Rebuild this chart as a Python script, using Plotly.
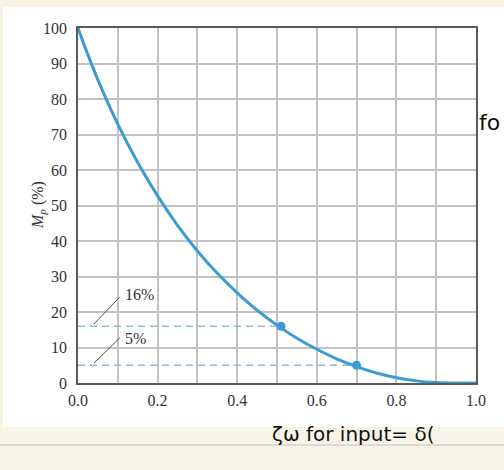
import plotly.graph_objects as go

# damping ratio (zeta) and percent overshoot
zeta = [0.0, 0.02, 0.05, 0.1, 0.15, 0.2, 0.25, 0.3, 0.35, 0.4, 0.45, 0.5,
        0.55, 0.6, 0.65, 0.7, 0.75, 0.8, 0.85, 0.9, 0.95, 1.0]
mp = [100.0, 93.9, 85.4, 72.9, 62.1, 52.7, 44.4, 37.2, 30.9, 25.4, 20.5, 16.3,
      12.6, 9.5, 6.8, 4.6, 2.8, 1.5, 0.6, 0.15, 0.0, 0.0]

# highlighted points
mark_zeta = [0.51, 0.70]
mark_mp = [16, 5]
mark_labels = ["16%", "5%"]

x_ticks = [0.0, 0.2, 0.4, 0.6, 0.8, 1.0]
x_ticktext = ["0.0", "0.2", "0.4", "0.6", "0.8", "1.0"]
y_ticks = [0, 10, 20, 30, 40, 50, 60, 70, 80, 90, 100]

W, H = 504, 470
L, R, T, B = 78, 28, 28, 87
PW, PH = W - L - R, H - T - B

def px(xp):
    return (xp - L) / PW

def py(yp):
    return (H - B - yp) / PH

CURVE = "#3d9bd3"
DASH = "#8dbbd6"
SERIF = "Liberation Serif"

fig = go.Figure()

# dashed reference lines
for zx, my in zip(mark_zeta, mark_mp):
    fig.add_trace(go.Scatter(x=[0, zx], y=[my, my], mode="lines",
                             line=dict(color=DASH, width=1.6, dash="7px,5px"),
                             hoverinfo="skip", showlegend=False))

fig.add_trace(go.Scatter(x=zeta, y=mp, mode="lines",
                         line=dict(color=CURVE, width=3, shape="spline", smoothing=0.8),
                         showlegend=False))
fig.add_trace(go.Scatter(x=mark_zeta, y=mark_mp, mode="markers",
                         marker=dict(color=CURVE, size=9),
                         showlegend=False))

shapes = [
    # white page panel
    dict(type="rect", xref="paper", yref="paper", layer="below",
         x0=px(3), x1=px(W + 2), y0=py(427), y1=py(7),
         fillcolor="white", line=dict(width=0)),
    # notebook line
    dict(type="line", xref="paper", yref="paper", layer="below",
         x0=px(0), x1=px(W), y0=py(445), y1=py(445),
         line=dict(color="#d4d2c8", width=1.5)),
]
# leader lines for labels
for my, ly in zip(mark_mp, [24.2, 12.7]):
    shapes.append(dict(type="line", xref="x", yref="y",
                       x0=0.04, x1=0.105, y0=my + 0.6, y1=ly,
                       line=dict(color="#555555", width=1)))

annotations = [
    dict(xref="paper", yref="paper", x=px(27), y=0.5, text="<i>M<sub>p</sub></i> (%)",
         textangle=-90, showarrow=False, font=dict(family=SERIF, size=16, color="#333")),
]
for lab, ly in zip(mark_labels, [24.8, 12.4]):
    annotations.append(dict(xref="x", yref="y", x=0.112, y=ly, text=lab, xanchor="left",
                            showarrow=False, font=dict(family=SERIF, size=16, color="#333")))
# handwritten notes on the page
annotations.append(dict(xref="paper", yref="paper", x=px(477), y=py(108), xanchor="left",
                        text="fo", showarrow=False,
                        font=dict(family="DejaVu Sans", size=22, color="#111")))
annotations.append(dict(xref="paper", yref="paper", x=px(270), y=py(420), xanchor="left",
                        yanchor="top", text="ζω for input= δ(", showarrow=False,
                        font=dict(family="DejaVu Sans", size=20, color="#111")))

axis_common = dict(showgrid=True, gridcolor="#c2c2c2", gridwidth=1.5,
                   showline=True, linecolor="#5a5a5a", linewidth=1.6, mirror=True,
                   zeroline=False, ticks="",
                   tickfont=dict(family=SERIF, size=16, color="#333"))

fig.update_layout(
    width=W, height=H,
    margin=dict(l=L, r=R, t=T, b=B),
    paper_bgcolor="#f7f4e6",
    plot_bgcolor="white",
    shapes=shapes,
    annotations=annotations,
    xaxis=dict(range=[0, 1], tickvals=x_ticks, ticktext=x_ticktext,
               ticklabelstandoff=2, **axis_common),
    yaxis=dict(range=[0, 100], tickvals=y_ticks, ticklabelstandoff=6, **axis_common),
)
# minor grid every 0.1 on x
fig.update_xaxes(minor=dict(dtick=0.1, tick0=0, showgrid=True, gridcolor="#c2c2c2", gridwidth=1.5))

fig.write_html("out.html")
